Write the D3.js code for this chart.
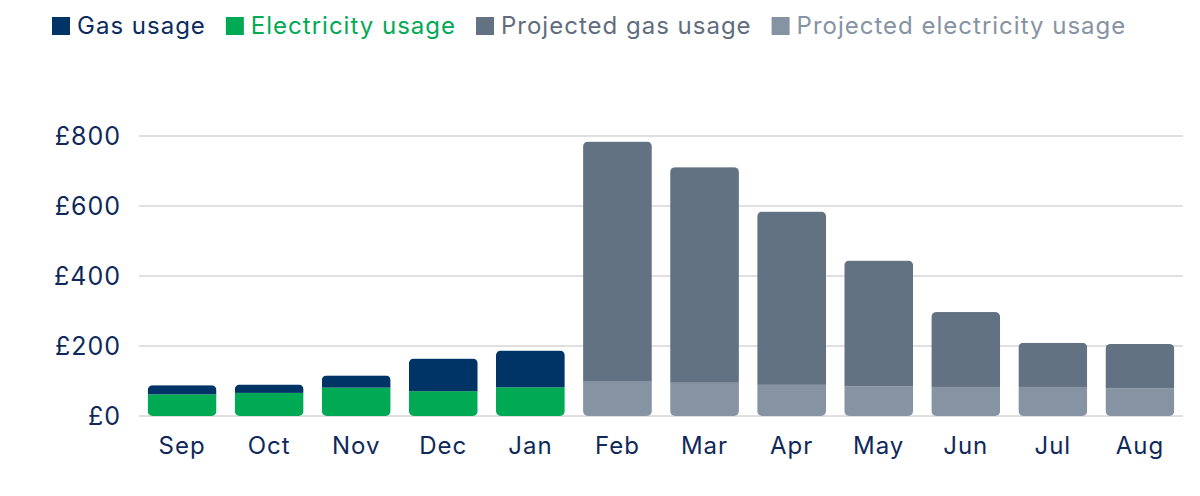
<!DOCTYPE html>
<html>
<head>
<meta charset="utf-8">
<script src="https://cdn.jsdelivr.net/npm/d3@7"></script>
<style>
  body { margin: 0; background: #fff; }
  svg text { font-family: "Inter", "Roboto", sans-serif; letter-spacing: 1px; }
  .grid line { stroke: #d6d6d6; stroke-width: 1.5; }
  .tick-label { fill: #10295a; font-size: 24px; }
  .y-label { font-size: 25px; }
</style>
</head>
<body>
<svg id="chart" width="1200" height="496"></svg>
<script>
// months and values (in £)
var months = ["Sep", "Oct", "Nov", "Dec", "Jan", "Feb", "Mar", "Apr", "May", "Jun", "Jul", "Aug"];
var electricity = [62, 66, 81, 71, 82, 0, 0, 0, 0, 0, 0, 0];
var gas = [26, 24, 35, 93, 105, 0, 0, 0, 0, 0, 0, 0];
var projElectricity = [0, 0, 0, 0, 0, 100, 95, 89, 85, 83, 83, 79];
var projGas = [0, 0, 0, 0, 0, 684, 616, 495, 359, 214, 126, 127];
var yTicks = [0, 200, 400, 600, 800];

var seriesNames = ["Gas usage", "Electricity usage", "Projected gas usage", "Projected electricity usage"];
var keys = ["electricity", "gas", "projElectricity", "projGas"];
var colors = {
  gas: "#003366", electricity: "#00aa55",
  projGas: "#637283", projElectricity: "#8593a3"
};
var legendKeys = ["gas", "electricity", "projGas", "projElectricity"];
var legendText = ["#0b2c5e", "#00aa55", "#5f6d7e", "#8593a3"];

var rows = months.map(function(m, i) {
  return { month: m, electricity: electricity[i], gas: gas[i],
           projElectricity: projElectricity[i], projGas: projGas[i] };
});

var svg = d3.select("#chart");
var plotLeft = 139, plotRight = 1183, plotTop = 136, plotBottom = 416;

var x = d3.scaleBand().domain(months).range([plotLeft, plotRight])
    .paddingInner(0.21).paddingOuter(0.1);
var y = d3.scaleLinear().domain([0, 800]).range([plotBottom, plotTop]);

// gridlines
svg.append("g").attr("class", "grid")
  .selectAll("line").data(yTicks).join("line")
  .attr("x1", plotLeft).attr("x2", plotRight)
  .attr("y1", function(d) { return y(d); })
  .attr("y2", function(d) { return y(d); });

// y labels
svg.append("g").selectAll("text").data(yTicks).join("text")
  .attr("class", "tick-label y-label")
  .attr("x", 121).attr("y", function(d) { return y(d); })
  .attr("dy", "0.35em").attr("text-anchor", "end")
  .text(function(d) { return "£" + d; });

// x labels
svg.append("g").selectAll("text").data(months).join("text")
  .attr("class", "tick-label")
  .attr("x", function(d) { return x(d) + x.bandwidth() / 2; })
  .attr("y", 454).attr("text-anchor", "middle")
  .text(function(d) { return d; });

// clip each month to a rounded rect of its total height
var defs = svg.append("defs");
rows.forEach(function(r, i) {
  var total = keys.reduce(function(s, k) { return s + r[k]; }, 0);
  defs.append("clipPath").attr("id", "clip" + i)
    .append("rect")
    .attr("x", x(r.month)).attr("width", x.bandwidth())
    .attr("y", y(total)).attr("height", y(0) - y(total))
    .attr("rx", 5).attr("ry", 5);
});

var stack = d3.stack().keys(keys)(rows);

svg.append("g").selectAll("g").data(stack).join("g")
  .attr("fill", function(s) { return colors[s.key]; })
  .selectAll("rect").data(function(s) { return s; }).join("rect")
  .attr("clip-path", function(d, i) { return "url(#clip" + i + ")"; })
  .attr("x", function(d) { return x(d.data.month); })
  .attr("width", x.bandwidth())
  .attr("y", function(d) { return y(d[1]); })
  .attr("height", function(d) { return y(d[0]) - y(d[1]); });

// legend
var lx = 52;
var legend = svg.append("g");
legendKeys.forEach(function(k, i) {
  legend.append("rect").attr("x", lx).attr("y", 17).attr("width", 18).attr("height", 18)
    .attr("fill", colors[k]);
  var t = legend.append("text").attr("x", lx + 25).attr("y", 34)
    .attr("fill", legendText[i]).style("font-size", "24px")
    .text(seriesNames[i]);
  lx = lx + 25 + t.node().getComputedTextLength() + 20;
});
</script>
</body>
</html>
